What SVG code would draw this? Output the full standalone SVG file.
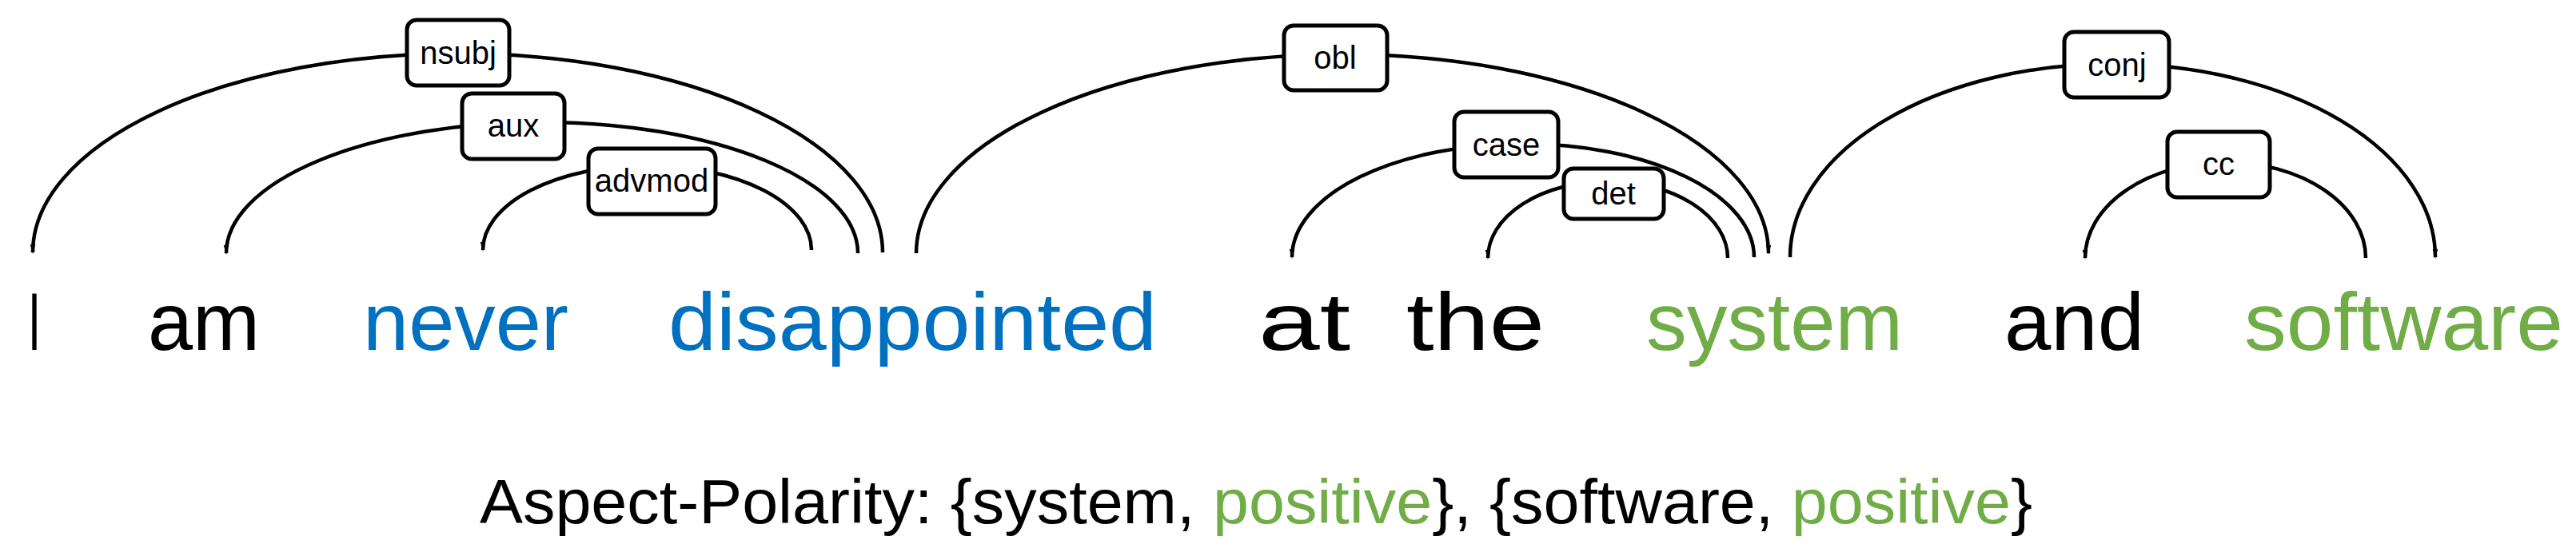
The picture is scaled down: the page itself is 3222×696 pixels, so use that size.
<svg xmlns="http://www.w3.org/2000/svg" width="3222" height="696" viewBox="0 0 3222 696">
<defs>
<style>
.arc{fill:none;stroke:#000;stroke-width:4.5;marker-end:url(#ah)}
.lb rect{fill:#fff;stroke:#000;stroke-width:5}
.lb text{font-family:"Liberation Sans",Arial,sans-serif;font-size:40px;text-anchor:middle;fill:#000}
.w{font-family:"Liberation Sans",Arial,sans-serif;font-size:102px}
.k{fill:#000}.b{fill:#0070C0}.g{fill:#70AD47}
</style>
<marker id="ah" markerUnits="userSpaceOnUse" markerWidth="20" markerHeight="30" viewBox="-10 -26 20 30" refX="0" refY="0" orient="auto-start-reverse">
<path d="M-7,-24 L0,2 L7,-24 Z" fill="#000" transform="rotate(-90)"/>
</marker>
</defs>
<g id="connectors">
<path class="arc" d="M1104,316 A531.5,249 0 0 0 41,316"/>
<path class="arc" d="M1073,317 A395,164 0 0 0 283,317"/>
<path class="arc" d="M1015,313 A205.5,106 0 0 0 604,313"/>
<path class="arc" d="M1146,317 A533,249 0 0 1 2212,317"/>
<path class="arc" d="M2194,322 A289,142 0 0 0 1616,322"/>
<path class="arc" d="M2161,323 A150,96 0 0 0 1861,323"/>
<path class="arc" d="M2239,322 A403.5,242 0 0 1 3046,322"/>
<path class="arc" d="M2959,323 A175.5,120 0 0 0 2608,323"/>
</g>
<g id="label-nsubj" class="lb"><rect x="509" y="25" width="128" height="82" rx="12"/><text x="573" y="80">nsubj</text></g>
<g id="label-aux" class="lb"><rect x="578" y="117" width="128" height="82" rx="12"/><text x="642" y="171">aux</text></g>
<g id="label-advmod" class="lb"><rect x="736" y="186" width="159" height="82" rx="12"/><text x="815" y="240">advmod</text></g>
<g id="label-obl" class="lb"><rect x="1606" y="32" width="129" height="81" rx="12"/><text x="1670" y="86">obl</text></g>
<g id="label-case" class="lb"><rect x="1819" y="140" width="130" height="82" rx="12"/><text x="1884" y="195">case</text></g>
<g id="label-det" class="lb"><rect x="1956" y="211" width="125" height="63" rx="12"/><text x="2018" y="256">det</text></g>
<g id="label-conj" class="lb"><rect x="2582" y="40" width="131" height="82" rx="12"/><text x="2648" y="95">conj</text></g>
<g id="label-cc" class="lb"><rect x="2711" y="165" width="128" height="82" rx="12"/><text x="2775" y="219">cc</text></g>
<g id="words" class="w">
<text id="w-I" class="k" x="35" y="438" textLength="16" lengthAdjust="spacingAndGlyphs">I</text>
<text id="w-am" class="k" x="185" y="438" textLength="140" lengthAdjust="spacingAndGlyphs">am</text>
<text id="w-never" class="b" x="454" y="438" textLength="257" lengthAdjust="spacingAndGlyphs">never</text>
<text id="w-disappointed" class="b" x="836" y="438" textLength="611" lengthAdjust="spacingAndGlyphs">disappointed</text>
<text id="w-at" class="k" x="1574" y="438" textLength="115" lengthAdjust="spacingAndGlyphs">at</text>
<text id="w-the" class="k" x="1759" y="438" textLength="173" lengthAdjust="spacingAndGlyphs">the</text>
<text id="w-system" class="g" x="2059" y="438" textLength="321" lengthAdjust="spacingAndGlyphs">system</text>
<text id="w-and" class="k" x="2507" y="438" textLength="175" lengthAdjust="spacingAndGlyphs">and</text>
<text id="w-software" class="g" x="2807" y="438" textLength="399" lengthAdjust="spacingAndGlyphs">software</text>
</g>
<g id="caption">
<text x="600" y="655" font-family="'Liberation Sans',Arial,sans-serif" font-size="78" textLength="1942" lengthAdjust="spacingAndGlyphs" class="k">Aspect-Polarity:  {system, <tspan class="g">positive</tspan>},  {software, <tspan class="g">positive</tspan>}</text>
</g>
</svg>
